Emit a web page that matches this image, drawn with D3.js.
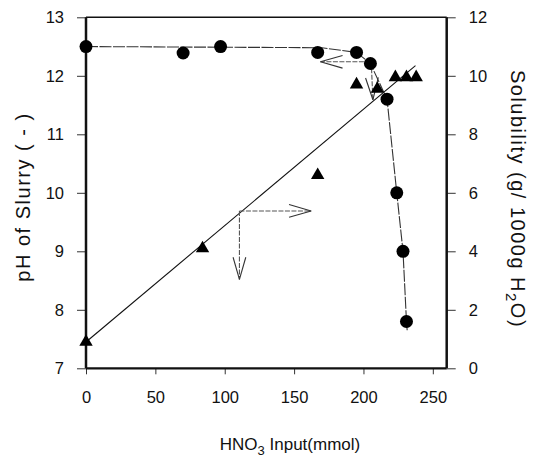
<!DOCTYPE html>
<html><head><meta charset="utf-8">
<script src="https://cdn.jsdelivr.net/npm/d3@7"></script>
<style>body{margin:0;background:#fff}svg{display:block}text{font-family:"Liberation Sans",Arial,sans-serif;fill:#111}</style>
</head><body>
<svg id="c" width="533" height="460"></svg>
<script>
// ---- data ----
const xTicks = [0, 50, 100, 150, 200, 250];
const phTicks = [7, 8, 9, 10, 11, 12, 13];
const solTicks = [0, 2, 4, 6, 8, 10, 12];
const phX = [0, 70, 97, 167, 195, 205, 217, 224, 228.5, 231];
const phY = [12.5, 12.39, 12.5, 12.4, 12.4, 12.21, 11.6, 10.0, 9.0, 7.8];
const phLineX = [0, 170, 195, 205, 217, 224, 228.5, 231, 231.5];
const phLineY = [12.5, 12.48, 12.4, 12.21, 11.6, 10.0, 9.0, 7.8, 7.65];
const solX = [0, 84, 167, 195, 210, 223, 231, 238];
const solY = [0.9, 4.1, 6.6, 9.7, 9.55, 9.95, 9.95, 9.95];
const fitX = [0, 237.5];
const fitY = [0.9, 10.35];
// arrows in data units (x, pH): [startX, startY, endX, endY]
const arrows = [
  [205, 12.24, 169, 12.24],
  [205.6, 12.24, 206.8, 11.59],
  [110.6, 9.69, 162.3, 9.69],
  [110.6, 9.69, 110.6, 8.52]
];

const svg = d3.select("#c");
const x = d3.scaleLinear().domain([0, 260]).range([86, 446.7]);
const yL = d3.scaleLinear().domain([7, 13]).range([368.3, 17.3]);
const yR = d3.scaleLinear().domain([0, 12]).range([368.3, 17.3]);

// axes
const ax = svg.append("g").attr("transform", `translate(0,${yL(7)})`)
  .call(d3.axisBottom(x).tickValues(xTicks).tickFormat(d3.format("d")).tickSize(6).tickPadding(17));
const ayL = svg.append("g").attr("transform", `translate(${x(0)},0)`)
  .call(d3.axisLeft(yL).tickValues(phTicks).tickFormat(d3.format("d")).tickSize(9).tickPadding(13));
const ayR = svg.append("g").attr("transform", `translate(${x(260)},0)`)
  .call(d3.axisRight(yR).tickValues(solTicks).tickFormat(d3.format("d")).tickSize(9).tickPadding(13));
[ax, ayL, ayR].forEach(g => {
  g.select(".domain").remove();
  g.selectAll(".tick line").attr("stroke", "#333").attr("stroke-width", 1);
  g.selectAll(".tick text").style("font-size", "16.5px").attr("fill", "#111");
});
// frame
svg.append("line").attr("x1", x(0)).attr("x2", x(260)).attr("y1", yL(13)).attr("y2", yL(13)).attr("stroke", "#111").attr("stroke-width", 1.5);
svg.append("line").attr("x1", x(0)).attr("x2", x(260)).attr("y1", yL(7)).attr("y2", yL(7)).attr("stroke", "#111").attr("stroke-width", 2.2);
svg.append("line").attr("x1", x(0)).attr("x2", x(0)).attr("y1", yL(13)).attr("y2", yL(7)).attr("stroke", "#111").attr("stroke-width", 2.5);
svg.append("line").attr("x1", x(260)).attr("x2", x(260)).attr("y1", yL(13)).attr("y2", yL(7)).attr("stroke", "#111").attr("stroke-width", 2.5);

// fit line (solubility)
svg.append("path").datum(fitX.map((d, i) => [d, fitY[i]]))
  .attr("d", d3.line().x(d => x(d[0])).y(d => yR(d[1])))
  .attr("fill", "none").attr("stroke", "#111").attr("stroke-width", 1.1);
// pH line
svg.append("path").datum(phLineX.map((d, i) => [d, phLineY[i]]))
  .attr("d", d3.line().x(d => x(d[0])).y(d => yL(d[1])))
  .attr("fill", "none").attr("stroke", "#333").attr("stroke-width", 1.1).attr("stroke-dasharray", "12,1.5");

// arrows
arrows.forEach(a => {
  const x1 = x(a[0]), y1 = yL(a[1]), x2 = x(a[2]), y2 = yL(a[3]);
  svg.append("line").attr("x1", x1).attr("y1", y1).attr("x2", x2).attr("y2", y2)
    .attr("stroke", "#555").attr("stroke-width", 1.1).attr("stroke-dasharray", "5,1.5");
  const ang = Math.atan2(y2 - y1, x2 - x1), L = 23, s = 0.28;
  [ang + Math.PI - s, ang + Math.PI + s].forEach(b => {
    svg.append("line").attr("x1", x2).attr("y1", y2)
      .attr("x2", x2 + L * Math.cos(b)).attr("y2", y2 + L * Math.sin(b))
      .attr("stroke", "#333").attr("stroke-width", 1.1);
  });
});

// triangles
svg.append("g").selectAll("path").data(solX.map((d, i) => [d, solY[i]])).join("path")
  .attr("transform", d => `translate(${x(d[0])},${yR(d[1])})`)
  .attr("d", d3.symbol().type(d3.symbolTriangle).size(78)).attr("fill", "#000");
// circles
svg.append("g").selectAll("circle").data(phX.map((d, i) => [d, phY[i]])).join("circle")
  .attr("cx", d => x(d[0])).attr("cy", d => yL(d[1])).attr("r", 6.5).attr("fill", "#000");

// titles
const xt = svg.append("text").attr("x", 290).attr("y", 450).attr("text-anchor", "middle").style("font-size", "17px");
xt.append("tspan").text("HNO");
xt.append("tspan").attr("dy", 5).style("font-size", "13px").text("3");
xt.append("tspan").attr("dy", -5).text(" Input(mmol)");
svg.append("text").attr("transform", "translate(30,197) rotate(-90)").attr("text-anchor", "middle")
  .style("font-size", "20px").style("letter-spacing", "1.5px").text("pH of Slurry ( - )");
const rt = svg.append("text").attr("transform", "translate(511,199) rotate(90)").attr("text-anchor", "middle")
  .style("font-size", "20px").style("letter-spacing", "1.5px");
rt.append("tspan").text("Solubility (g/ 1000g H");
rt.append("tspan").attr("dy", 5).style("font-size", "15px").text("2");
rt.append("tspan").attr("dy", -5).text("O)");
</script>
</body></html>
